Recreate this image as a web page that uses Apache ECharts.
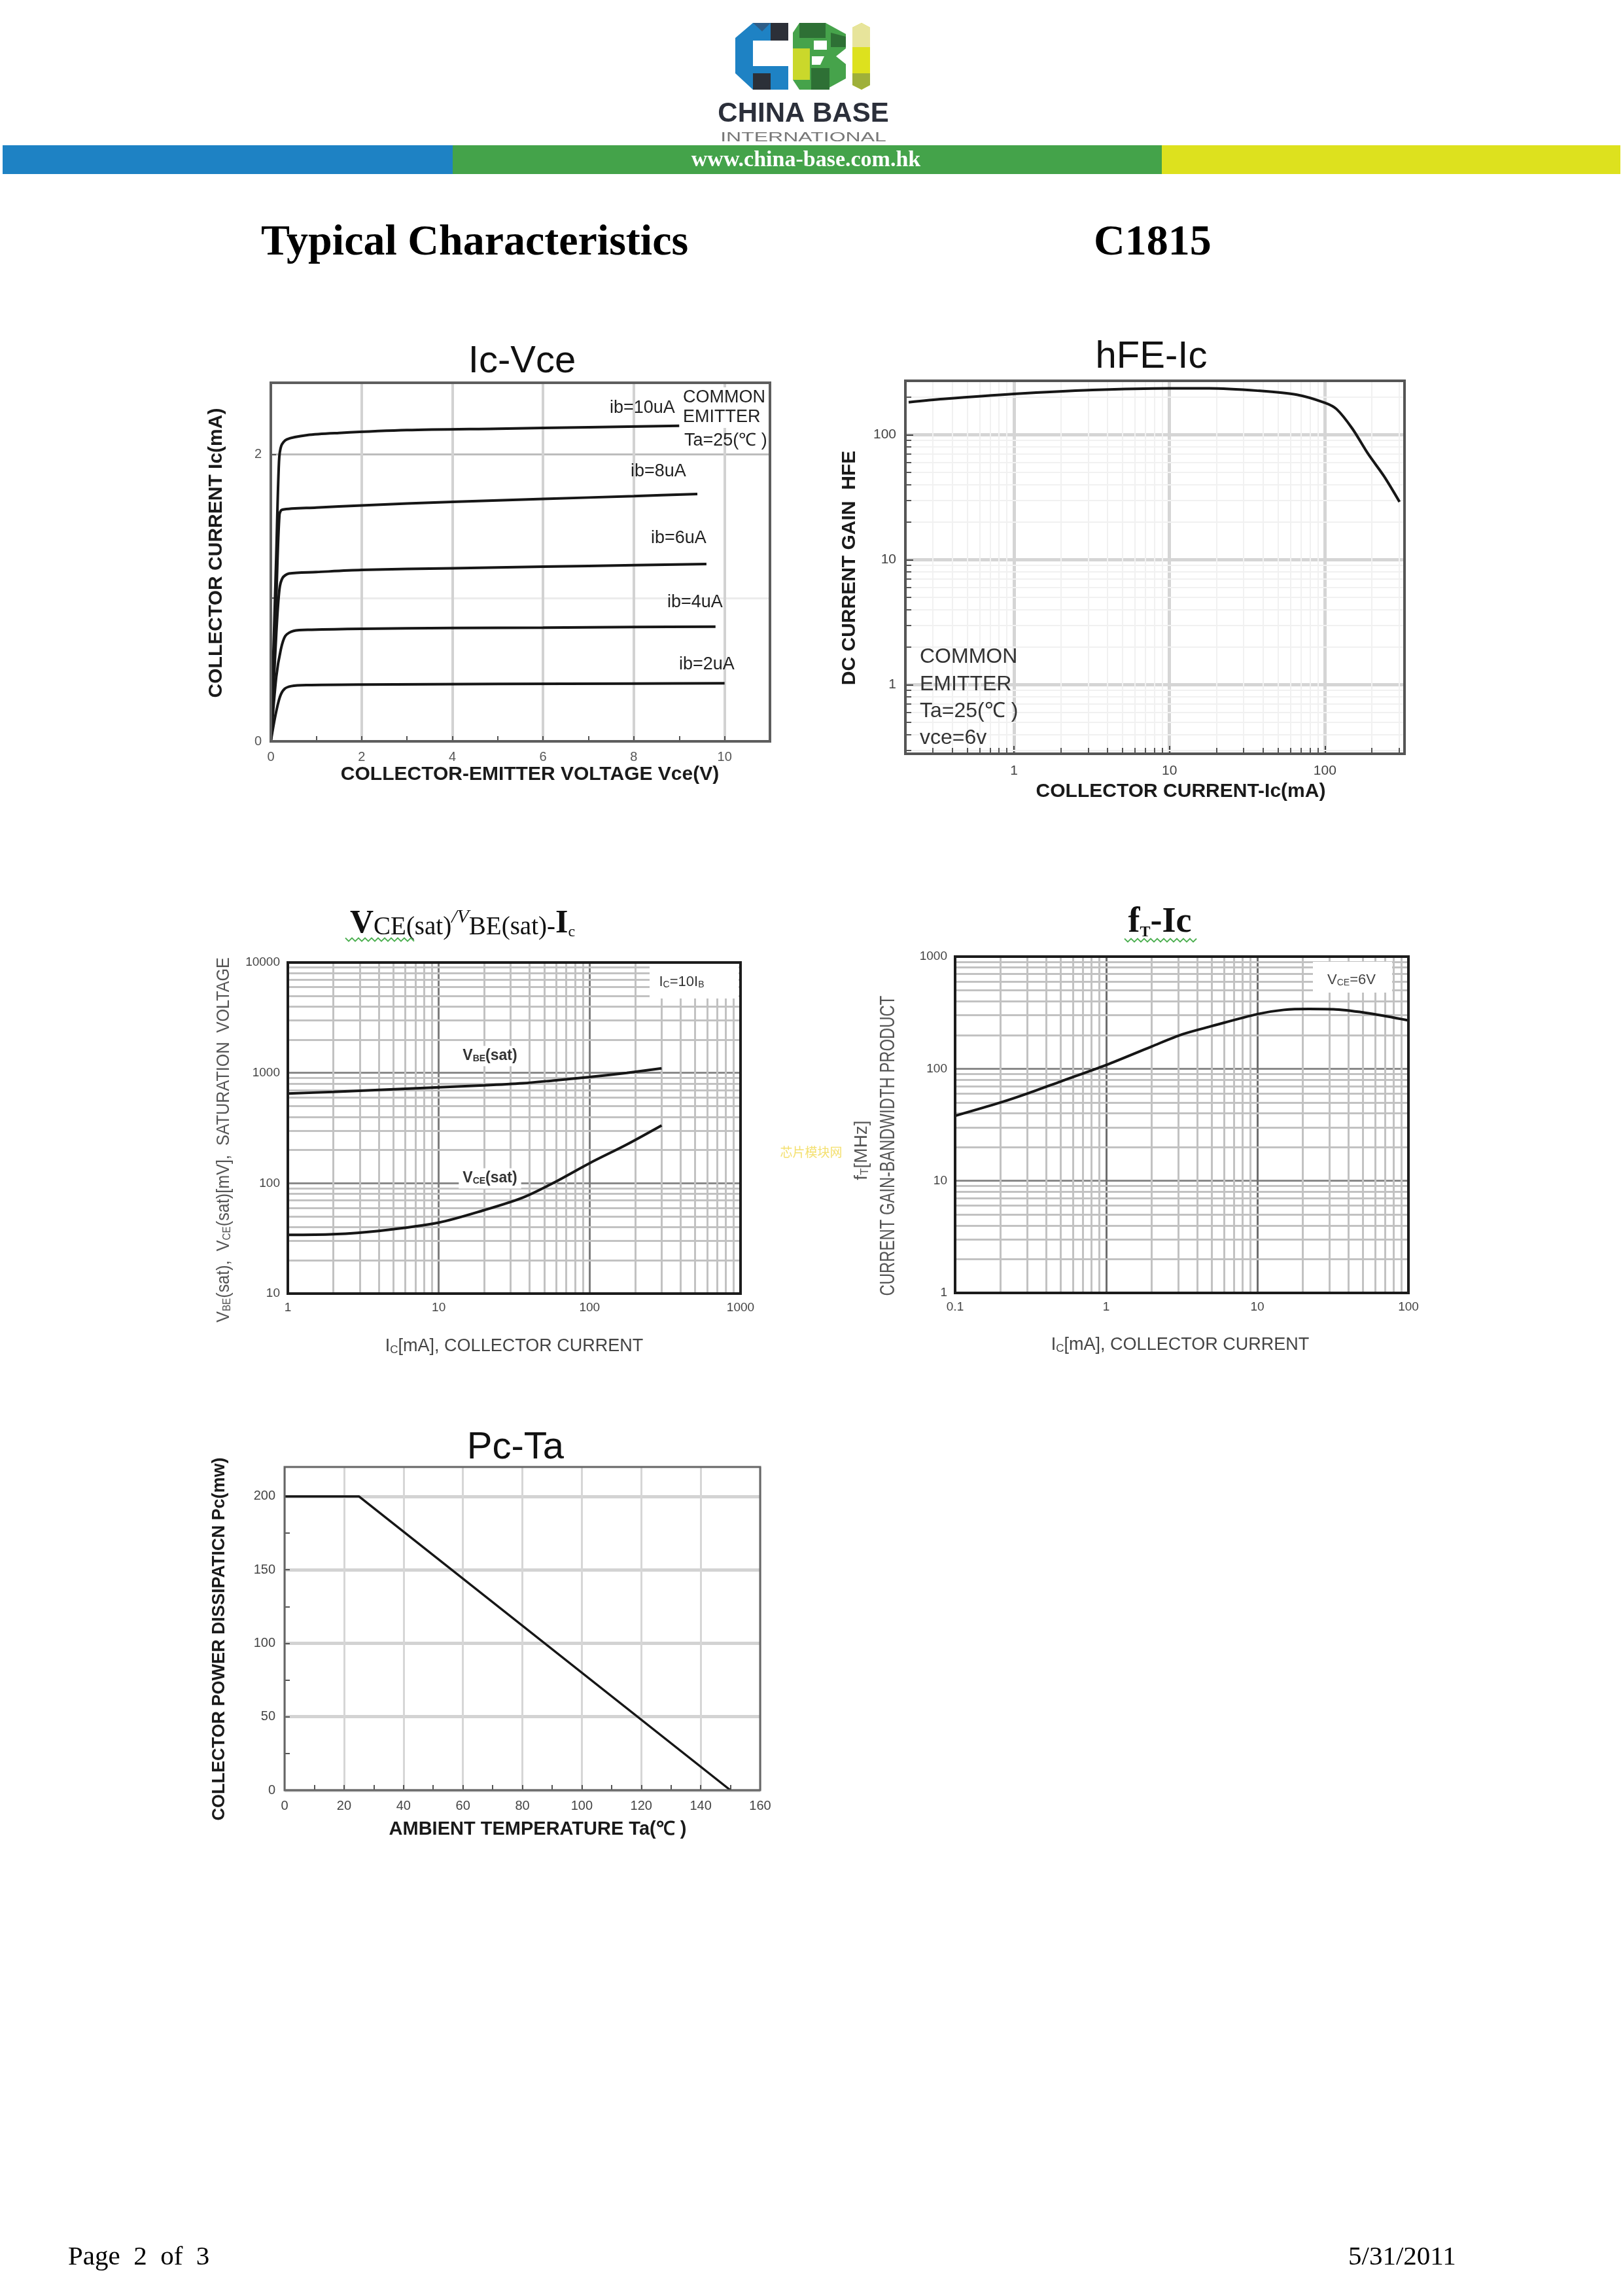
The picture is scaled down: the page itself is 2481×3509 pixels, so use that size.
<!DOCTYPE html>
<html>
<head>
<meta charset="utf-8">
<title>C1815 Typical Characteristics</title>
<script src="https://cdn.jsdelivr.net/npm/echarts@6.0.0/dist/echarts.min.js"></script>
<style>
html,body{margin:0;padding:0;background:#ffffff;}
#chart{width:2481px;height:3509px;}
</style>
</head>
<body>
<div id="chart"></div>
<script>
// ================= DATA =================
// Ic-Vce : [Vce (V), Ic (mA)]
const icVceIb10 = [[0,0],[0.12,1.3],[0.18,1.95],[0.23,2.06],[0.35,2.105],[0.8,2.135],[1.5,2.15],[3,2.17],[5,2.18],[7,2.19],[9,2.2]];
const icVceIb8  = [[0,0],[0.12,1.0],[0.19,1.58],[0.25,1.615],[1,1.63],[2,1.645],[4,1.67],[6,1.69],[8,1.71],[9.4,1.725]];
const icVceIb6  = [[0,0],[0.12,0.75],[0.19,1.06],[0.26,1.14],[0.4,1.17],[1,1.18],[2,1.195],[4,1.207],[6,1.218],[8,1.228],[9.6,1.236]];
const icVceIb4  = [[0,0],[0.12,0.45],[0.22,0.64],[0.32,0.735],[0.5,0.77],[0.9,0.778],[2,0.785],[4,0.79],[6,0.793],[8,0.797],[9.8,0.8]];
const icVceIb2  = [[0,0],[0.1,0.18],[0.2,0.31],[0.3,0.365],[0.45,0.385],[0.8,0.392],[2,0.396],[5,0.4],[8,0.403],[10,0.405]];
const icVceNames = ['ib=10uA','ib=8uA','ib=6uA','ib=4uA','ib=2uA'];
const icVceXRange = [0, 11];
const icVceYRange = [0, 2.5];
const icVceXLabels = [0, 2, 4, 6, 8, 10];
const icVceYLabels = [0, 2];

// hFE-Ic : Ic (mA), hFE
const hfeIc   = [0.21, 0.35, 1, 3.2, 10, 18, 37, 66, 100, 119, 150, 190, 240, 302];
const hfeGain = [182, 193, 212, 228, 235, 235, 225, 209, 180, 160, 112, 70, 46.5, 29];
const hfeXRange = [0.2, 325];
const hfeYRange = [0.28, 270];

// VCE(sat)/VBE(sat)-Ic : Ic (mA), mV
const satIc  = [1, 2, 4, 10, 20, 36, 57, 100, 176, 300];
const vbeSat = [650, 672, 700, 740, 770, 805, 852, 918, 1000, 1100];
const vceSat = [34, 34.5, 37, 44, 57, 74, 100, 152, 224, 334];
const satXRange = [1, 1000];
const satYRange = [10, 10000];

// fT-Ic : Ic (mA), fT (MHz)
const ftIc  = [0.1, 0.2, 0.3, 0.5, 1, 2, 3.2, 5, 10, 15, 22, 33, 56, 100];
const ftMHz = [38, 50, 60, 77, 108, 158, 203, 240, 307, 335, 341, 338, 311, 270];
const ftXRange = [0.1, 100];
const ftYRange = [1, 1000];

// Pc-Ta : Ta (C), Pc (mW)
const pcTa = [0, 25, 150];
const pcMw = [200, 200, 0];
const pcXRange = [0, 160];
const pcYRange = [0, 220];
const pcXLabels = [0, 20, 40, 60, 80, 100, 120, 140, 160];
const pcYLabels = [0, 50, 100, 150, 200];

// minor log grid multipliers
const minorMultipliers = [2, 3, 4, 5, 6, 7, 8, 9];

// ================= LAYOUT =================
const BOX = {
  ic:  {left: 414,  top: 585,  width: 763, height: 548},
  hfe: {left: 1384, top: 582,  width: 763, height: 570},
  sat: {left: 440,  top: 1471, width: 692, height: 506},
  ft:  {left: 1460, top: 1462, width: 693, height: 514},
  pc:  {left: 435,  top: 2242, width: 727, height: 494}
};
const SANS = '"Liberation Sans", Arial, sans-serif';
const SERIF = '"Liberation Serif", "Times New Roman", serif';
const CLEAR = 'rgba(0,0,0,0)';

function zip(xs, ys) { return xs.map((x, i) => [x, ys[i]]); }
function plain(v) { return String(+(+v).toPrecision(6)); }

function minorValues(r) {
  const out = [];
  const e0 = Math.floor(Math.log10(r[0])), e1 = Math.ceil(Math.log10(r[1]));
  for (let e = e0; e <= e1; e++) {
    minorMultipliers.forEach(m => {
      const v = +(m * Math.pow(10, e)).toPrecision(6);
      if (v > r[0] * 1.0001 && v < r[1] * 0.9999) out.push(v);
    });
  }
  return out;
}

function logGridMarkLine(xr, yr, box, lineStyle, tick) {
  const data = [];
  minorValues(xr).forEach(v => data.push({xAxis: v, lineStyle: lineStyle}));
  minorValues(yr).forEach(v => data.push({yAxis: v, lineStyle: lineStyle}));
  if (tick) {
    const fx = Math.pow(10, tick.len * Math.log10(xr[1] / xr[0]) / box.width);
    const fy = Math.pow(10, tick.len * Math.log10(yr[1] / yr[0]) / box.height);
    const x0 = xr[0] * 1.0005, y0 = yr[0] * 1.0005;
    minorValues(xr).forEach(v => data.push([{coord: [v, y0], lineStyle: tick.style}, {coord: [v, y0 * fy]}]));
    minorValues(yr).forEach(v => data.push([{coord: [x0, v], lineStyle: tick.style}, {coord: [x0 * fx, v]}]));
  }
  return {silent: true, symbol: ['none', 'none'], label: {show: false}, emphasis: {disabled: true},
          animation: false, z: 3, precision: 6, data: data};
}

function logAxis(gridIndex, range, o) {
  return {
    type: 'log', logBase: 10, gridIndex: gridIndex, min: range[0], max: range[1],
    axisLine: {show: false},
    axisTick: {show: !!o.tick, inside: true, length: 12, lineStyle: {color: '#444', width: 2}},
    axisLabel: {show: true, showMinLabel: o.ends, showMaxLabel: o.ends, formatter: plain,
                color: o.labelColor, fontSize: o.fontSize, fontFamily: SANS, margin: o.margin},
    splitLine: {show: true, showMinLine: false, showMaxLine: false, lineStyle: {color: o.major, width: o.majorWidth}},
    minorTick: {show: false}, minorSplitLine: {show: false}
  };
}

const curve = {type: 'line', symbol: 'none', showSymbol: false, smooth: 0.3,
               lineStyle: {color: '#161616', width: 4}, z: 10, silent: true, animation: false};

// ================= GRAPHIC =================
function txt(x, y, text, font, fill, align, extra) {
  const el = {type: 'text', x: x, y: y, z: 100, silent: true,
    style: {text: text, font: font, fill: fill || '#111',
            align: align || 'center', textAlign: align || 'center',
            verticalAlign: 'middle', textVerticalAlign: 'middle'}};
  if (extra) {
    if (extra.style) Object.assign(el.style, extra.style);
    ['rotation', 'scaleX', 'scaleY', 'z'].forEach(k => { if (extra[k] != null) el[k] = extra[k]; });
  }
  return el;
}
function rect(x, y, w, h, fill, stroke, lw, z) {
  return {type: 'rect', z: z || 100, silent: true, shape: {x: x, y: y, width: w, height: h},
          style: {fill: fill || CLEAR, stroke: stroke || null, lineWidth: lw || 0}};
}
function frame(b, color, lw) { return rect(b.left, b.top, b.width, b.height, CLEAR, color, lw, 100); }
function poly(points, fill) { return {type: 'polygon', z: 100, silent: true, shape: {points: points}, style: {fill: fill}}; }
function wave(x0, x1, y, color) {
  const pts = []; let up = true;
  for (let x = x0; x <= x1; x += 5) { pts.push([x, y + (up ? -2.5 : 2.5)]); up = !up; }
  return {type: 'polyline', z: 100, silent: true, shape: {points: pts}, style: {stroke: color, lineWidth: 1.8, fill: null}};
}
function richText(x, y, text, rich, fill, extra) {
  const el = {type: 'text', x: x, y: y, z: 100, silent: true, style: {
    text: text, rich: rich, fill: fill || '#111',
    align: 'center', textAlign: 'center', verticalAlign: 'middle', textVerticalAlign: 'middle'}};
  if (extra) {
    if (extra.style) Object.assign(el.style, extra.style);
    ['rotation', 'scaleX', 'scaleY', 'z'].forEach(k => { if (extra[k] != null) el[k] = extra[k]; });
  }
  return el;
}
function subRich(size, subSize, color, weight) {
  const w = weight ? weight + ' ' : '';
  return {a: {font: w + size + 'px ' + SANS, fill: color, verticalAlign: 'bottom'},
          s: {font: w + subSize + 'px ' + SANS, fill: color, verticalAlign: 'bottom'}};
}

const graphics = [
  // ---- logo ----
  poly([[1151,35],[1205,35],[1205,62],[1151,62],[1151,101],[1205,101],[1205,137],[1151,137],[1124,112],[1124,58]], '#1e82c4'),
  poly([[1178,35],[1205,35],[1205,62],[1178,62]], '#2c3038'),
  poly([[1151,112],[1178,112],[1178,137],[1151,137]], '#2c3038'),
  poly([[1151,35],[1178,35],[1165,48]], '#2f5d87'),
  poly([[1222,35],[1262,35],[1293,52],[1293,74],[1278,86],[1293,98],[1293,120],[1262,137],[1222,137],[1212,122],[1212,50]], '#46a34b'),
  poly([[1222,35],[1262,35],[1262,58],[1222,58]], '#2e7035'),
  poly([[1270,50],[1293,56],[1293,72],[1270,72]], '#2e7035'),
  poly([[1212,74],[1238,74],[1238,122],[1212,122]], '#cad82b'),
  poly([[1240,104],[1268,104],[1268,137],[1240,137]], '#2e7035'),
  poly([[1244,62],[1264,62],[1264,76],[1244,76]], '#ffffff'),
  poly([[1241,86],[1260,86],[1254,99],[1241,99]], '#ffffff'),
  poly([[1303,42],[1317,35],[1330,42],[1330,130],[1317,137],[1303,130]], '#dde11e'),
  poly([[1303,42],[1317,35],[1330,42],[1330,72],[1303,72]], '#e7e49b'),
  poly([[1303,112],[1330,112],[1330,130],[1317,137],[1303,130]], '#9fb03a'),
  txt(1228, 174, 'CHINA BASE', 'bold 42px ' + SANS, '#2b2f3a'),
  txt(1228, 210, 'INTERNATIONAL', '20px ' + SANS, '#777777', 'center', {scaleX: 1.6}),
  // ---- color bar ----
  rect(4, 222, 688, 44, '#1e82c4', null, 0, 90),
  rect(692, 222, 1084, 44, '#44a34a', null, 0, 90),
  rect(1776, 222, 701, 44, '#dde11e', null, 0, 90),
  txt(1232, 245, 'www.china-base.com.hk', 'bold 34px ' + SERIF, '#ffffff'),
  // ---- page title ----
  txt(399, 372, 'Typical Characteristics', 'bold 66px ' + SERIF, '#000', 'left'),
  txt(1672, 372, 'C1815', 'bold 66px ' + SERIF, '#000', 'left'),

  // ---- Ic-Vce ----
  txt(798, 553, 'Ic-Vce', '58px ' + SANS, '#111'),
  txt(331, 845, 'COLLECTOR CURRENT Ic(mA)', 'bold 30px ' + SANS, '#1a1a1a', 'center', {rotation: Math.PI / 2}),
  txt(810, 1184, 'COLLECTOR-EMITTER VOLTAGE Vce(V)', 'bold 30px ' + SANS, '#1a1a1a'),
  txt(932, 624, icVceNames[0], '27px ' + SANS, '#222', 'left'),
  txt(964, 721, icVceNames[1], '27px ' + SANS, '#222', 'left'),
  txt(995, 823, icVceNames[2], '27px ' + SANS, '#222', 'left'),
  txt(1020, 921, icVceNames[3], '27px ' + SANS, '#222', 'left'),
  txt(1038, 1016, icVceNames[4], '27px ' + SANS, '#222', 'left'),
  rect(1040, 592, 134, 62, '#ffffff', null, 0, 95),
  txt(1044, 608, 'COMMON', '27px ' + SANS, '#222', 'left'),
  txt(1044, 638, 'EMITTER', '27px ' + SANS, '#222', 'left'),
  txt(1046, 674, 'Ta=25(℃ )', '27px ' + SANS, '#222', 'left'),
  frame(BOX.ic, '#5e5e5e', 4),

  // ---- hFE-Ic ----
  txt(1760, 546, 'hFE-Ic', '58px ' + SANS, '#111'),
  txt(1299, 868, 'DC CURRENT GAIN  HFE', 'bold 30px ' + SANS, '#1a1a1a', 'center', {rotation: Math.PI / 2}),
  txt(1805, 1210, 'COLLECTOR CURRENT-Ic(mA)', 'bold 30px ' + SANS, '#1a1a1a'),
  txt(1406, 1004, 'COMMON', '32px ' + SANS, '#333', 'left'),
  txt(1406, 1046, 'EMITTER', '32px ' + SANS, '#333', 'left'),
  txt(1406, 1087, 'Ta=25(℃ )', '32px ' + SANS, '#333', 'left'),
  txt(1406, 1128, 'vce=6v', '32px ' + SANS, '#333', 'left'),
  frame(BOX.hfe, '#555555', 4),

  // ---- VCE(sat)/VBE(sat)-Ic ----
  richText(707, 1412, '{V|V}{n|CE(sat)}{sup|/V}{n|BE(sat)-}{I|I}{sub|c}', {
      V:   {font: 'bold 50px ' + SERIF, fill: '#111', verticalAlign: 'bottom'},
      n:   {font: '39px ' + SERIF, fill: '#111', verticalAlign: 'bottom'},
      sup: {font: 'italic 30px ' + SERIF, fill: '#111', verticalAlign: 'top'},
      I:   {font: 'bold 50px ' + SERIF, fill: '#111', verticalAlign: 'bottom'},
      sub: {font: '24px ' + SERIF, fill: '#111', verticalAlign: 'bottom'}
    }, '#111'),
  wave(528, 635, 1436, '#4caf50'),
  richText(342, 1742, '{a|V}{s|BE}{a|(sat),  V}{s|CE}{a|(sat)[mV],  SATURATION  VOLTAGE}',
    subRich(28, 17, '#555'), '#555', {rotation: Math.PI / 2, scaleX: 0.9}),
  richText(786, 2058, '{a|I}{s|C}{a|[mA], COLLECTOR CURRENT}', subRich(27, 17, '#444'), '#444'),
  rect(993, 1473, 136, 53, '#ffffff', null, 0, 95),
  richText(1042, 1501, '{a|I}{s|C}{a|=10I}{s|B}', subRich(22, 14, '#333'), '#333'),
  richText(749, 1614, '{a|V}{s|BE}{a|(sat)}', subRich(23, 14, '#333', 'bold'), '#333',
    {style: {backgroundColor: '#ffffff', padding: [4, 6]}}),
  richText(749, 1801, '{a|V}{s|CE}{a|(sat)}', subRich(23, 14, '#333', 'bold'), '#333',
    {style: {backgroundColor: '#ffffff', padding: [4, 6]}}),
  frame(BOX.sat, '#1c1c1c', 4),

  // ---- fT-Ic ----
  richText(1773, 1410, '{f|f}{t|T}{f|-Ic}', {
      f: {font: 'bold 54px ' + SERIF, fill: '#111', verticalAlign: 'bottom'},
      t: {font: 'bold 24px ' + SERIF, fill: '#111', verticalAlign: 'bottom'}
    }, '#111'),
  wave(1719, 1830, 1437, '#4caf50'),
  richText(1317, 1758, '{a|f}{s|T}{a|[MHz]}', subRich(28, 17, '#555'), '#555', {rotation: Math.PI / 2}),
  txt(1358, 1751, 'CURRENT GAIN-BANDWIDTH PRODUCT', '31px ' + SANS, '#555', 'center', {rotation: Math.PI / 2, scaleX: 0.77}),
  richText(1804, 2056, '{a|I}{s|C}{a|[mA], COLLECTOR CURRENT}', subRich(27, 17, '#444'), '#444'),
  rect(2007, 1470, 121, 47, '#ffffff', null, 0, 95),
  richText(2066, 1498, '{a|V}{s|CE}{a|=6V}', subRich(22, 14, '#444'), '#444'),
  txt(1240, 1761, '芯片模块网', '19px "Noto Sans CJK SC"', '#f4e070'),
  frame(BOX.ft, '#1c1c1c', 4),

  // ---- Pc-Ta ----
  txt(788, 2213, 'Pc-Ta', '58px ' + SANS, '#111'),
  txt(336, 2505, 'COLLECTOR POWER DISSIPATICN Pc(mw)', 'bold 27px ' + SANS, '#1a1a1a', 'center', {rotation: Math.PI / 2}),
  txt(822, 2796, 'AMBIENT TEMPERATURE Ta(℃ )', 'bold 29px ' + SANS, '#1a1a1a'),
  frame(BOX.pc, '#666666', 3),

  // ---- footer ----
  txt(104, 3450, 'Page  2  of  3', '41px ' + SERIF, '#000', 'left'),
  txt(2061, 3450, '5/31/2011', '41px ' + SERIF, '#000', 'left')
];

// ================= OPTION =================
const option = {
  animation: false,
  backgroundColor: '#ffffff',
  textStyle: {fontFamily: SANS},
  grid: [BOX.ic, BOX.hfe, BOX.sat, BOX.ft, BOX.pc].map(b => Object.assign({show: false, containLabel: false, outerBoundsMode: 'none'}, b)),
  xAxis: [
    {type: 'value', gridIndex: 0, min: icVceXRange[0], max: icVceXRange[1], interval: 1,
     axisLine: {show: false},
     axisTick: {show: true, inside: true, length: 8, lineStyle: {color: '#555', width: 2}},
     axisLabel: {formatter: v => icVceXLabels.includes(v) ? String(v) : '', color: '#555', fontSize: 20, fontFamily: SANS, margin: 14, showMinLabel: true, showMaxLabel: true},
     splitLine: {show: true, lineStyle: {color: ['#d2d2d2', CLEAR], width: 4}}},
    logAxis(1, hfeXRange, {tick: true, ends: false, labelColor: '#444', fontSize: 21, margin: 16, major: '#d5d5d5', majorWidth: 5}),
    logAxis(2, satXRange, {tick: false, ends: true, labelColor: '#444', fontSize: 19, margin: 12, major: '#7e7e7e', majorWidth: 3}),
    logAxis(3, ftXRange, {tick: false, ends: true, labelColor: '#444', fontSize: 19, margin: 12, major: '#6e6e6e', majorWidth: 3}),
    {type: 'value', gridIndex: 4, min: pcXRange[0], max: pcXRange[1], interval: 10,
     axisLine: {show: false},
     axisTick: {show: true, inside: true, length: 8, lineStyle: {color: '#555', width: 2}},
     axisLabel: {formatter: v => pcXLabels.includes(v) ? String(v) : '', color: '#444', fontSize: 20, fontFamily: SANS, margin: 14, showMinLabel: true, showMaxLabel: true},
     splitLine: {show: true, lineStyle: {color: ['#d6d6d6', CLEAR], width: 3}}}
  ],
  yAxis: [
    {type: 'value', gridIndex: 0, min: icVceYRange[0], max: icVceYRange[1], interval: 1,
     axisLine: {show: false},
     axisTick: {show: true, inside: true, length: 8, lineStyle: {color: '#555', width: 2}},
     axisLabel: {formatter: v => icVceYLabels.includes(v) ? String(v) : '', color: '#555', fontSize: 20, fontFamily: SANS, margin: 14},
     splitLine: {show: true, lineStyle: {color: [CLEAR, '#ececec', '#bcbcbc', CLEAR], width: 3}}},
    logAxis(1, hfeYRange, {tick: true, ends: false, labelColor: '#444', fontSize: 21, margin: 14, major: '#d5d5d5', majorWidth: 5}),
    logAxis(2, satYRange, {tick: false, ends: true, labelColor: '#444', fontSize: 19, margin: 12, major: '#8a8a8a', majorWidth: 3}),
    logAxis(3, ftYRange, {tick: false, ends: true, labelColor: '#444', fontSize: 19, margin: 12, major: '#8a8a8a', majorWidth: 3}),
    {type: 'value', gridIndex: 4, min: pcYRange[0], max: pcYRange[1], interval: 25,
     axisLine: {show: false},
     axisTick: {show: true, inside: true, length: 8, lineStyle: {color: '#555', width: 2}},
     axisLabel: {formatter: v => pcYLabels.includes(v) ? String(v) : '', color: '#444', fontSize: 20, fontFamily: SANS, margin: 14},
     splitLine: {show: true, lineStyle: {color: ['#d3d3d3', CLEAR], width: 5}}}
  ],
  series: [
    Object.assign({}, curve, {name: icVceNames[0], xAxisIndex: 0, yAxisIndex: 0, data: icVceIb10}),
    Object.assign({}, curve, {name: icVceNames[1], xAxisIndex: 0, yAxisIndex: 0, data: icVceIb8}),
    Object.assign({}, curve, {name: icVceNames[2], xAxisIndex: 0, yAxisIndex: 0, data: icVceIb6}),
    Object.assign({}, curve, {name: icVceNames[3], xAxisIndex: 0, yAxisIndex: 0, data: icVceIb4}),
    Object.assign({}, curve, {name: icVceNames[4], xAxisIndex: 0, yAxisIndex: 0, data: icVceIb2}),
    Object.assign({}, curve, {name: 'hFE', xAxisIndex: 1, yAxisIndex: 1, data: zip(hfeIc, hfeGain),
      markLine: logGridMarkLine(hfeXRange, hfeYRange, BOX.hfe, {type: 'solid', color: '#f1f1f1', width: 2},
                                {len: 9, style: {type: 'solid', color: '#555', width: 2}})}),
    Object.assign({}, curve, {name: 'VBE(sat)', xAxisIndex: 2, yAxisIndex: 2, data: zip(satIc, vbeSat),
      markLine: logGridMarkLine(satXRange, satYRange, BOX.sat, {type: 'solid', color: '#c2c2c2', width: 3}, null)}),
    Object.assign({}, curve, {name: 'VCE(sat)', xAxisIndex: 2, yAxisIndex: 2, data: zip(satIc, vceSat)}),
    Object.assign({}, curve, {name: 'fT', xAxisIndex: 3, yAxisIndex: 3, data: zip(ftIc, ftMHz),
      markLine: logGridMarkLine(ftXRange, ftYRange, BOX.ft, {type: 'solid', color: '#c2c2c2', width: 3}, null)}),
    Object.assign({}, curve, {name: 'Pc', xAxisIndex: 4, yAxisIndex: 4, data: zip(pcTa, pcMw), smooth: false,
      lineStyle: {color: '#161616', width: 3.5}})
  ],
  graphic: {elements: graphics}
};

const chart = echarts.init(document.getElementById('chart'), null, {renderer: 'canvas', width: 2481, height: 3509});
chart.setOption(option);
</script>
</body>
</html>
